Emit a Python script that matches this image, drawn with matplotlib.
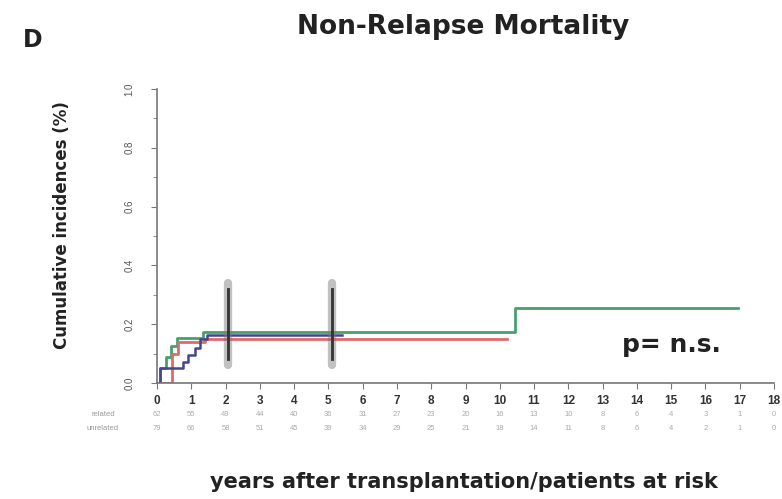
import numpy as np
import matplotlib.pyplot as plt

plt.rcParams['font.family'] = ['Liberation Sans', 'DejaVu Sans']

# cumulative incidence step curves (years, incidence)
green_t = [0, 0.1, 0.25, 0.4, 0.58, 1.35, 10.45, 16.95]
green_v = [0, 0.05, 0.09, 0.125, 0.153, 0.175, 0.255, 0.255]
red_t = [0, 0.45, 0.6, 1.4, 10.2]
red_v = [0, 0.10, 0.138, 0.15, 0.15]
blue_t = [0, 0.1, 0.76, 0.9, 1.1, 1.25, 1.45, 5.4]
blue_v = [0, 0.05, 0.07, 0.095, 0.12, 0.15, 0.163, 0.163]

censor_years = [2.07, 5.1]

years = list(range(0, 19))
risk_labels = ['related', 'unrelated']
risk_row1 = [62, 55, 49, 44, 40, 36, 31, 27, 23, 20, 16, 13, 10, 8, 6, 4, 3, 1, 0]
risk_row2 = [79, 66, 58, 51, 45, 39, 34, 29, 25, 21, 18, 14, 11, 8, 6, 4, 2, 1, 0]

big = 'DejaVu Sans'

fig = plt.figure(figsize=(7.82, 4.99), dpi=100)
ax = fig.add_axes([157/782, 1-383/499, (774-157)/782, (383-89)/499])

ax.step(green_t, green_v, where='post', color='#46a06c', lw=2)
ax.step(red_t, red_v, where='post', color='#e06a6a', lw=2)
ax.step(blue_t, blue_v, where='post', color='#45458f', lw=1.8)

# overlapping censoring ticks
for c in censor_years:
    ax.plot([c, c], [0.06, 0.34], color='#777777', lw=6, alpha=0.45, solid_capstyle='round')
    ax.plot([c, c], [0.08, 0.32], color='#333333', lw=2)

ax.set_xlim(0, 18)
ax.set_ylim(0, 1)
for s in ['top', 'right']:
    ax.spines[s].set_visible(False)
for s in ['left', 'bottom']:
    ax.spines[s].set_color('#777777')
    ax.spines[s].set_linewidth(1.2)

ax.set_xticks(years)
ax.set_xticklabels([str(y) for y in years], fontsize=8.5, fontweight='bold', color='#333333')
ax.set_yticks(np.arange(0, 1.01, 0.2))
ax.set_yticks(np.arange(0.1, 1.0, 0.2), minor=True)
ax.set_yticklabels(['0.0', '0.2', '0.4', '0.6', '0.8', '1.0'], rotation=90,
                   fontsize=7, color='#555555', va='center')
ax.tick_params(axis='both', which='both', color='#777777', length=4)
ax.tick_params(axis='y', which='minor', length=3)
ax.tick_params(axis='y', pad=12)
ax.tick_params(axis='x', pad=5)

fig.text(62/782, 1 - 225/499, 'Cumulative incidences (%)', fontsize=12, family=big,
         fontweight='bold', rotation=90, ha='center', va='center', color='#222222')

fig.text(671/782, 1 - 345/499, 'p= n.s.', fontsize=18, family=big,
         fontweight='bold', color='#222222', ha='center', va='center')

# patients at risk table
for row, (lab, vals) in enumerate(zip(risk_labels, [risk_row1, risk_row2])):
    yy = 1 - (415 + row * 14) / 499
    fig.text(103/782, yy, lab, fontsize=5.5, color='#999999', ha='center', va='center')
    for y, n in zip(years, vals):
        xx = (157 + y * (774 - 157) / 18) / 782
        fig.text(xx, yy, str(n), fontsize=5.5, color='#aaaaaa', ha='center', va='center')

fig.text(464/782, 1 - 482/499, 'years after transplantation/patients at risk',
         fontsize=15, family=big, fontweight='bold', ha='center', va='center', color='#222222')
fig.text(463/782, 1 - 27/499, 'Non-Relapse Mortality', fontsize=19, family=big,
         fontweight='bold', ha='center', va='center', color='#222222')
fig.text(33/782, 1 - 40/499, 'D', fontsize=17, family=big, fontweight='bold',
         ha='center', va='center', color='#222222')

fig.savefig('out.png', dpi=100)
